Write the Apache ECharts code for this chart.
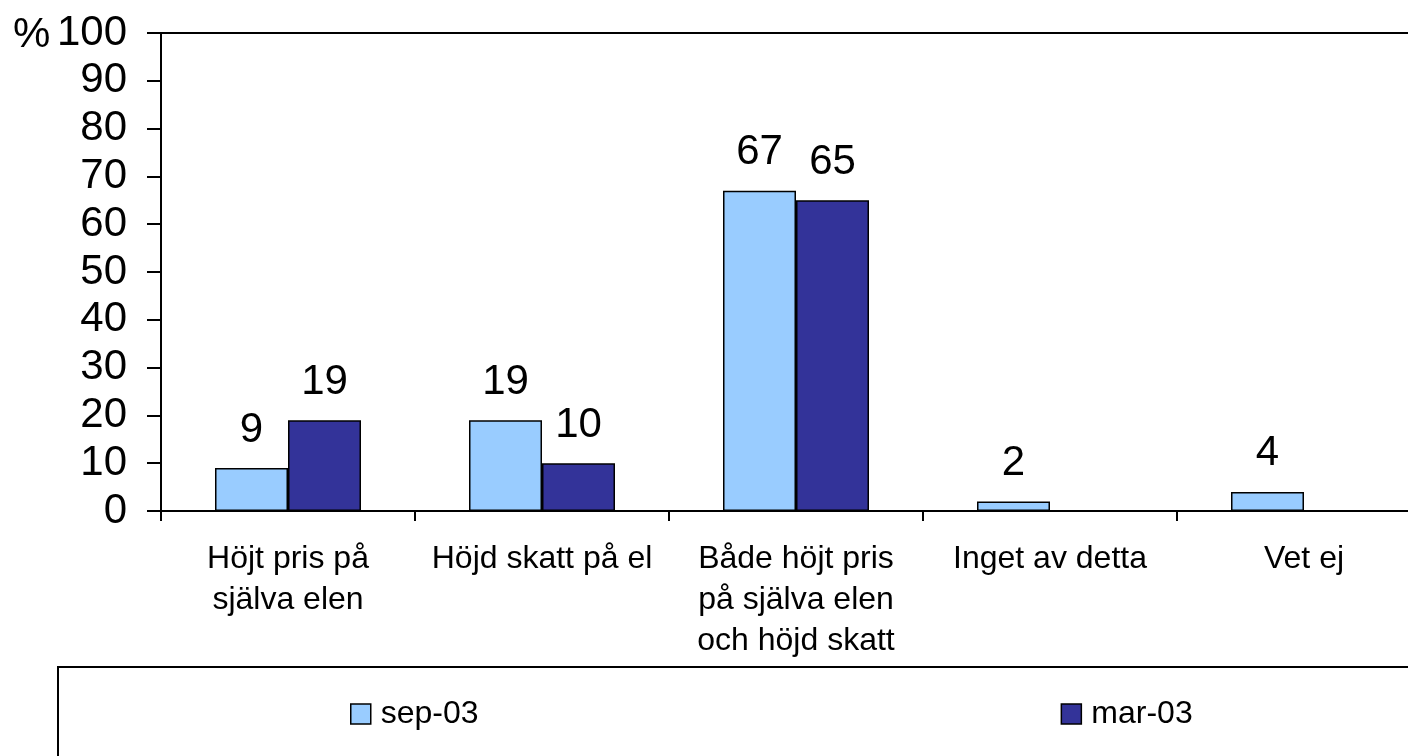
<!DOCTYPE html>
<html>
<head>
<meta charset="utf-8">
<script src="https://cdn.jsdelivr.net/npm/echarts@6/dist/echarts.min.js"></script>
<style>
  html, body { margin: 0; padding: 0; background: #fff; }
  #chart { width: 1408px; height: 756px; }
</style>
</head>
<body>
<div id="chart"></div>
<script>
// Categories (answer options) and the two survey rounds
const categories = [
  'Höjt pris på\nsjälva elen',
  'Höjd skatt på el',
  'Både höjt pris\npå själva elen\noch höjd skatt',
  'Inget av detta',
  'Vet ej'
];
const seriesNames = ['sep-03', 'mar-03'];
const sep03 = [9, 19, 67, 2, 4];
const mar03 = [19, 10, 65, null, null];
const yTicks = [0, 10, 20, 30, 40, 50, 60, 70, 80, 90, 100];

const FONT = '"Liberation Sans", Arial, sans-serif';
const chart = echarts.init(document.getElementById('chart'), null, { renderer: 'canvas' });

function barSeries(name, data, color) {
  return {
    name: name,
    type: 'bar',
    data: data,
    barWidth: 73,
    barGap: '0%',
    itemStyle: { color: color, borderColor: '#000', borderWidth: 1.5 },
    label: {
      show: true,
      position: 'top',
      distance: 17,
      color: '#000',
      fontFamily: FONT,
      fontSize: 42,
      formatter: p => (p.value == null ? '' : String(p.value))
    }
  };
}

chart.setOption({
  animation: false,
  backgroundColor: '#fff',
  // plot area runs past the right edge of the canvas
  grid: {
    left: 161, top: 33, width: 1270, height: 478,
    outerBoundsMode: 'none',
    containLabel: false,
    show: true, borderColor: '#000', borderWidth: 2, backgroundColor: 'transparent'
  },
  legend: {
    data: seriesNames,
    left: 350, top: 698,
    padding: 0,
    icon: 'rect',
    itemWidth: 20, itemHeight: 20,
    itemGap: 582,
    itemStyle: { borderColor: '#000', borderWidth: 1.5 },
    textStyle: { fontFamily: FONT, fontSize: 32, color: '#000', padding: [0, 0, 0, 5] }
  },
  xAxis: {
    type: 'category',
    data: categories,
    axisLine: { lineStyle: { color: '#000', width: 2 } },
    axisTick: { show: true, length: 10, lineStyle: { color: '#000', width: 2 } },
    axisLabel: {
      color: '#000', fontFamily: FONT, fontSize: 32, lineHeight: 41,
      margin: 28, interval: 0, align: 'center'
    }
  },
  yAxis: {
    type: 'value',
    min: yTicks[0], max: yTicks[yTicks.length - 1], interval: 10,
    splitLine: { show: false },
    axisLine: { show: true, lineStyle: { color: '#000', width: 2 } },
    axisTick: { show: true, length: 14, lineStyle: { color: '#000', width: 2 } },
    axisLabel: { color: '#000', fontFamily: FONT, fontSize: 42, margin: 34 }
  },
  graphic: [
    {
      type: 'text', left: 13, top: 14,
      style: { text: '%', font: '42px ' + FONT, fill: '#000' }
    },
    {
      type: 'rect', shape: { x: 58, y: 667, width: 1400, height: 150 },
      style: { fill: 'none', stroke: '#000', lineWidth: 2 }, z: -1
    }
  ],
  series: [
    barSeries(seriesNames[0], sep03, '#99CCFF'),
    barSeries(seriesNames[1], mar03, '#333399')
  ]
});
</script>
</body>
</html>
